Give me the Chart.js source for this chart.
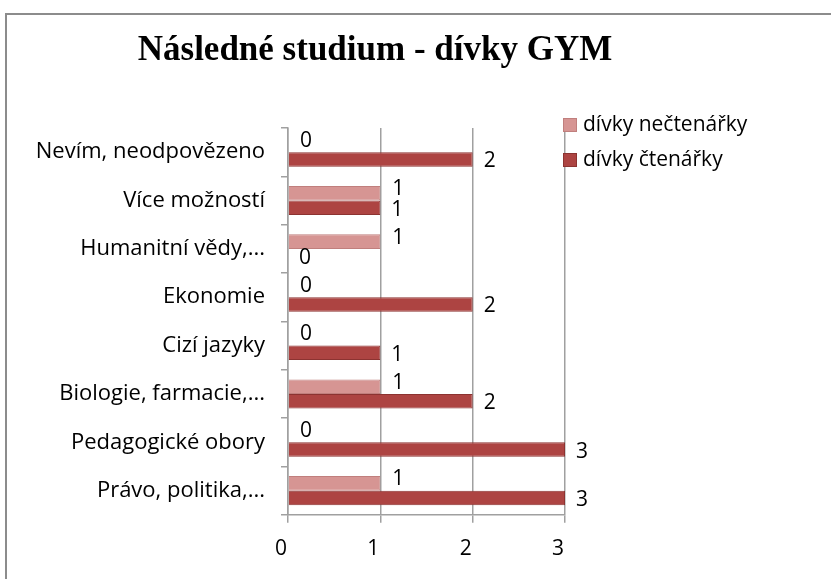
<!DOCTYPE html>
<html>
<head>
  <title>Následné studium - dívky GYM</title>
  <script src="https://cdn.jsdelivr.net/npm/chart.js"></script>
  <style>
    body { margin: 0; background: #fff; overflow: hidden; }
    #frame { position: absolute; left: 5px; top: 13px; width: 900px; height: 700px; border: 2px solid #8c8c8c; box-sizing: border-box; }
    #wrap { position: absolute; left: 0; top: 0; width: 831px; height: 579px; }
  </style>
</head>
<body>
  <div id="frame"></div>
  <div id="wrap"><canvas id="studyChart"></canvas></div>

  <script>
    const categories = [
      'Nevím, neodpovězeno',
      'Více možností',
      'Humanitní vědy,...',
      'Ekonomie',
      'Cizí jazyky',
      'Biologie, farmacie,...',
      'Pedagogické obory',
      'Právo, politika,...'
    ];
    const nectenarky = [0, 1, 1, 0, 0, 1, 0, 1];
    const ctenarky = [2, 1, 0, 2, 1, 2, 3, 3];
    const xTicks = [0, 1, 2, 3];

    // value labels next to the bar ends
    const valueLabels = {
      id: 'valueLabels',
      afterDatasetsDraw(chart) {
        const ctx = chart.ctx;
        ctx.save();
        ctx.font = '21px "Open Sans"';
        ctx.fillStyle = '#000';
        ctx.textAlign = 'left';
        ctx.textBaseline = 'middle';
        chart.data.datasets.forEach((ds, i) => {
          chart.getDatasetMeta(i).data.forEach((bar, j) => {
            const dx = i === 0 ? 12 : 11;
            const dy = i === 0 ? -4 : 2;
            ctx.fillText(ds.data[j], bar.x + dx, bar.y + dy);
          });
        });
        ctx.restore();
      }
    };

    // legend drawn beside the plot, top aligned with it
    const sideLegend = {
      id: 'sideLegend',
      afterDraw(chart) {
        const ctx = chart.ctx;
        const area = chart.chartArea;
        ctx.save();
        ctx.font = '21px "Open Sans"';
        ctx.textAlign = 'left';
        ctx.textBaseline = 'middle';
        chart.data.datasets.forEach((ds, i) => {
          const x = area.right - 2;
          const y = area.top - 3 + i * 35;
          ctx.fillStyle = ds.backgroundColor;
          ctx.fillRect(x, y - 7, 14, 14);
          ctx.strokeStyle = ds.borderColor;
          ctx.lineWidth = 1;
          ctx.strokeRect(x + 0.5, y - 6.5, 13, 13);
          ctx.fillStyle = '#000';
          ctx.fillText(ds.label, x + 20, y);
        });
        ctx.restore();
      }
    };

    new Chart(document.getElementById('studyChart'), {
      type: 'bar',
      data: {
        labels: categories,
        datasets: [
          {
            label: 'dívky nečtenářky',
            data: nectenarky,
            backgroundColor: '#d69593',
            borderColor: '#c07f7d',
            borderWidth: 1
          },
          {
            label: 'dívky čtenářky',
            data: ctenarky,
            backgroundColor: '#ad4442',
            borderColor: '#8c3331',
            borderWidth: 1
          }
        ]
      },
      options: {
        indexAxis: 'y',
        responsive: true,
        maintainAspectRatio: false,
        animation: false,
        layout: { padding: { left: 0, right: 81, bottom: 3 } },
        scales: {
          x: {
            min: 0,
            max: 3,
            afterBuildTicks: axis => { axis.ticks = xTicks.map(v => ({ value: v })); },
            grid: { color: '#a0a0a0', lineWidth: 1.5, tickLength: 8 },
            border: { color: '#a0a0a0', width: 1.5 },
            ticks: { color: '#000', font: { family: 'Open Sans', size: 21 }, padding: 14, labelOffset: -7 }
          },
          y: {
            afterFit: axis => { axis.width = 288; },
            grid: { drawOnChartArea: false, color: '#a0a0a0', lineWidth: 1.5, tickLength: 7, offset: true },
            border: { color: '#a0a0a0', width: 1.5 },
            ticks: { color: '#000', font: { family: 'Open Sans', size: 22 }, padding: 16 }
          },
          side: {
            type: 'category',
            position: 'right',
            afterFit: axis => { axis.width = 185; },
            grid: { display: false },
            border: { display: false },
            ticks: { display: false }
          }
        },
        datasets: {
          bar: { categoryPercentage: 0.6, barPercentage: 1.0 }
        },
        plugins: {
          title: {
            display: true,
            text: 'Následné studium - dívky GYM',
            color: '#000',
            font: { family: 'Liberation Serif', size: 35, weight: 'bold' },
            padding: { top: 30, bottom: 56 }
          },
          legend: { display: false },
          tooltip: { enabled: false }
        }
      },
      plugins: [valueLabels, sideLegend]
    });
  </script>
</body>
</html>
